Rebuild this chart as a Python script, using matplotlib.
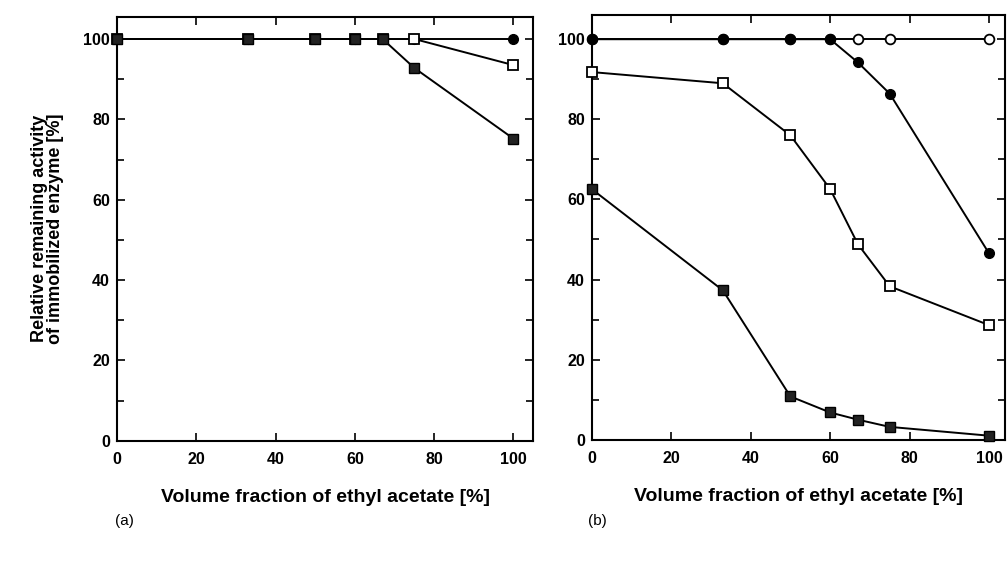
import matplotlib
matplotlib.use("Agg")
import matplotlib.pyplot as plt
from matplotlib.ticker import MultipleLocator

plt.rcParams['font.family'] = ['Liberation Sans', 'DejaVu Sans']
plt.rcParams['font.weight'] = 'bold'

# ---- data ----
x_vals = [0, 33, 50, 60, 67, 75, 100]

# panel (a)
a_circle = [100, 100, 100, 100, 100, 100, 100]
a_open_sq = [100, 100, 100, 100, 100, 100, 93.5]
a_filled_sq = [100, 100, 100, 100, 100, 92.8, 75.2]

# panel (b)
b_open_circle = [100, 100, 100, 100, 100, 100, 100]
b_filled_circle = [100, 100, 100, 100, 94.2, 86.4, 46.5]
b_open_sq = [91.8, 89.0, 76.0, 62.6, 48.8, 38.3, 28.6]
b_filled_sq = [62.6, 37.3, 10.8, 6.8, 5.0, 3.2, 1.0]

x_ticks = [0, 20, 40, 60, 80, 100]
y_ticks = [0, 20, 40, 60, 80, 100]

xlabel = "Volume fraction of ethyl acetate [%]"
ylabel = "Relative remaining activity\nof immobilized enzyme [%]"

fig = plt.figure(figsize=(10.08, 5.63), dpi=100)
axA = fig.add_axes([0.116, 0.217, 0.413, 0.753])
axB = fig.add_axes([0.587, 0.219, 0.410, 0.754])

lw = 1.4
ms_sq = 7
ms_c = 7

def style(ax, xmax, ymax):
    ax.set_xlim(0, xmax)
    ax.set_ylim(0, ymax)
    ax.set_xticks(x_ticks)
    ax.set_yticks(y_ticks)
    ax.yaxis.set_minor_locator(MultipleLocator(10))
    ax.tick_params(which='both', direction='in', top=True, right=True,
                   width=1.2)
    ax.tick_params(which='major', length=6)
    ax.tick_params(which='minor', length=5)
    ax.tick_params(axis='x', pad=8, labelsize=11.5)
    ax.tick_params(axis='y', pad=5, labelsize=11.5)
    for lab in ax.get_xticklabels() + ax.get_yticklabels():
        lab.set_fontweight('bold')
    for s in ax.spines.values():
        s.set_linewidth(1.5)
    ax.set_xlabel(xlabel, fontsize=14, fontweight='bold', labelpad=16)

def draw(ax, y, marker, mfc, z, mew=1.0):
    ax.plot(x_vals, y, '-', color='black', lw=lw, marker=marker,
            ms=ms_sq if marker == 's' else ms_c, mfc=mfc, mec='black',
            mew=mew, zorder=z, clip_on=False)

# panel (a)
draw(axA, a_circle, 'o', 'black', 3)
draw(axA, a_open_sq, 's', 'white', 4, 1.3)
draw(axA, a_filled_sq, 's', '#222222', 5)
style(axA, 105, 105.5)
axA.set_ylabel(ylabel, fontsize=13, fontweight='bold', labelpad=14,
               linespacing=0.9)

# panel (b)
draw(axB, b_open_circle, 'o', 'white', 3, 1.3)
draw(axB, b_filled_circle, 'o', 'black', 4)
draw(axB, b_open_sq, 's', 'white', 5, 1.3)
draw(axB, b_filled_sq, 's', '#222222', 6)
style(axB, 104, 106)

fig.text(0.114, 0.068, "(a)", fontsize=11, fontweight='normal')
fig.text(0.583, 0.068, "(b)", fontsize=11, fontweight='normal')

fig.savefig("out.png", dpi=100)
